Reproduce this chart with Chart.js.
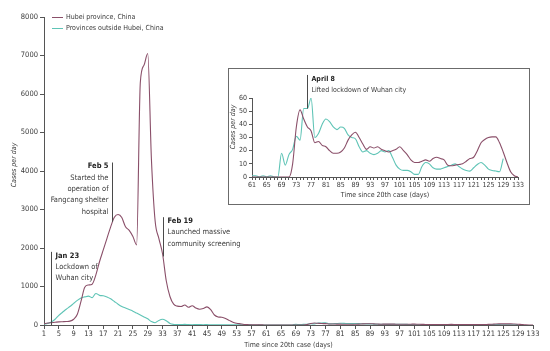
<!DOCTYPE html>
<html>
<head>
<meta charset="utf-8">
<script src="https://cdn.jsdelivr.net/npm/chart.js@4"></script>
<style>
    html, body { margin: 0; padding: 0; background: #ffffff; }
    #wrap { position: relative; width: 550px; height: 351px; }
    #mainChart { position: absolute; left: 0; top: 0; }
    #insetBox { position: absolute; left: 228px; top: 68px; width: 300px; height: 135px; border: 1px solid #6b6b6b; background: #ffffff; }
    #insetChart { position: absolute; left: 0; top: 0; }
</style>
</head>
<body>
<div id="wrap">
    <canvas id="mainChart" width="550" height="351"></canvas>
    <div id="insetBox"><canvas id="insetChart" width="300" height="135"></canvas></div>
</div>
<script>
// Daily new cases, main panel covers days 1-133 (index 0 = day 1)
const hubeiCases = [
    30, 50, 60, 70, 80, 85, 90, 100, 150, 280,
    620, 980, 1040, 1060, 1300, 1650, 1950, 2250, 2550, 2800,
    2870, 2790, 2550, 2460, 2300, 2080, 6300, 6750, 7050, 4300,
    2700, 2250, 1850, 1150, 740, 540, 490, 480, 520, 460,
    500, 440, 410, 430, 470, 400, 260, 210, 200, 170,
    120, 70, 45, 30, 15, 10, 5, 5, 3, 2,
    // days 61-133 (same as inset)
    0, 0, 0, 0, 0, 0, 0, 0, 0, 0, 0,
    10, 38, 51, 44, 38, 35, 26, 27, 24, 23,
    20, 18, 18, 19, 22, 28, 32, 34, 30, 25,
    21, 23, 22, 23, 21, 20, 19, 20, 21, 23,
    20, 17, 13, 11, 11, 12, 13, 12, 14, 15,
    14, 13, 9, 8.5, 9, 9.5, 10, 12, 14, 15,
    20, 26, 28.5, 30, 30.5, 30.5, 26, 19, 11, 4,
    1, 0
];

const outsideCases = [
    20, 40, 80, 150, 250, 330, 410, 480, 560, 640,
    700, 730, 750, 710, 820, 770, 760, 730, 680, 610,
    540, 480, 440, 400, 360, 310, 260, 210, 160, 90,
    60, 120, 150, 110, 40, 15, 10, 12, 15, 10,
    8, 12, 10, 8, 10, 6, 8, 5, 6, 4,
    5, 3, 4, 3, 2, 3, 2, 1, 2, 1,
    // days 61-133 (same as inset)
    1, 1, 0, 1, 0, 1, 0, 0, 18, 9,
    17, 21, 31, 28, 52, 52, 60, 30, 33, 40,
    44, 42, 38, 36, 38, 37, 32, 30, 29, 23,
    19, 20, 18, 17, 18, 20, 19, 20, 15, 9,
    6, 5, 5, 4, 2, 2, 8, 11, 10, 7,
    6, 6, 7, 8, 9, 10, 8, 6, 5, 4.5,
    7, 9.5, 11, 9, 6, 5, 4.5, 4, 14,
    null, null, null, null
];

const mainTickLabels = [1, 5, 9, 13, 17, 21, 25, 29, 33, 37, 41, 45, 49, 53, 57, 61, 65, 69, 73, 77, 81, 85, 89, 93, 97, 101, 105, 109, 113, 117, 121, 125, 129, 133];
const insetTickLabels = [61, 65, 69, 73, 77, 81, 85, 89, 93, 97, 101, 105, 109, 113, 117, 121, 125, 129, 133];
const INSET_START_DAY = 61;

const seriesNames = ['Hubei province, China', 'Provinces outside Hubei, China'];

// events: day of the marker, bold title, description, and the value range the marker line covers
const mainEvents = [
    { day: 3, title: 'Jan 23', lines: ['Lockdown of', 'Wuhan city'], from: 0, to: 1900, side: 'right' },
    { day: 19.4, title: 'Feb 5', lines: ['Started the', 'operation of', 'Fangcang shelter', 'hospital'], from: 2680, to: 4220, side: 'left' },
    { day: 33.25, title: 'Feb 19', lines: ['Launched massive', 'community screening'], from: 1780, to: 2800, side: 'right' }
];
const insetEvents = [
    { day: 76, title: 'April 8', lines: ['Lifted lockdown of Wuhan city'], from: 52, to: 77.5, side: 'right' }
];

const HUBEI_COLOR = '#8a4f69';
const OUTSIDE_COLOR = '#5fc4b6';
const AXIS_COLOR = '#555555';
const TEXT_COLOR = '#3a3a3a';
const FONT_FAMILY = "'Liberation Sans Narrow', 'DejaVu Sans Condensed', 'Noto Sans', sans-serif";

Chart.defaults.font.family = FONT_FAMILY;
Chart.defaults.color = TEXT_COLOR;

function toPoints(values, firstDay) {
    return values.map((v, i) => ({ x: firstDay + i, y: v }));
}

function drawEvents(chart, events, fontSize, lineGap) {
    const ctx = chart.ctx;
    const xs = chart.scales.x;
    const ys = chart.scales.y;
    ctx.save();
    events.forEach(ev => {
        const x = Math.round(xs.getPixelForValue(ev.day)) + 0.5;
        const yTop = ys.getPixelForValue(ev.to);
        const yBottom = ys.getPixelForValue(ev.from);
        ctx.strokeStyle = '#4a4a4a';
        ctx.lineWidth = 1;
        ctx.beginPath();
        ctx.moveTo(x, yBottom);
        ctx.lineTo(x, yTop);
        ctx.stroke();

        const tx = ev.side === 'right' ? x + 4 : x - 4;
        ctx.textAlign = ev.side === 'right' ? 'left' : 'right';
        ctx.textBaseline = 'middle';
        ctx.fillStyle = '#222222';
        ctx.font = 'bold ' + fontSize + 'px ' + FONT_FAMILY;
        ctx.fillText(ev.title, tx, yTop + 4);
        ctx.font = fontSize + 'px ' + FONT_FAMILY;
        ctx.fillStyle = TEXT_COLOR;
        ev.lines.forEach((line, i) => {
            ctx.fillText(line, tx, yTop + 4 + lineGap * (i + 1));
        });
    });
    ctx.restore();
}

function drawTitles(chart, yTitleX, yTitleY, xTitleY) {
    const ctx = chart.ctx;
    const area = chart.chartArea;
    ctx.save();
    ctx.fillStyle = TEXT_COLOR;
    ctx.font = '7px ' + FONT_FAMILY;
    ctx.textAlign = 'center';
    ctx.textBaseline = 'middle';
    ctx.fillText('Time since 20th case (days)', (area.left + area.right) / 2, xTitleY);
    ctx.translate(yTitleX, yTitleY);
    ctx.rotate(-Math.PI / 2);
    ctx.font = 'italic 7px ' + FONT_FAMILY;
    ctx.fillText('Cases per day', 0, 0);
    ctx.restore();
}

const mainOverlay = {
    id: 'mainOverlay',
    afterDraw(chart) {
        const ctx = chart.ctx;
        // legend
        ctx.save();
        [HUBEI_COLOR, OUTSIDE_COLOR].forEach((color, i) => {
            const y = 17.5 + i * 11;
            ctx.strokeStyle = color;
            ctx.lineWidth = 1;
            ctx.beginPath();
            ctx.moveTo(52, y);
            ctx.lineTo(63, y);
            ctx.stroke();
            ctx.fillStyle = TEXT_COLOR;
            ctx.font = '7px ' + FONT_FAMILY;
            ctx.textAlign = 'left';
            ctx.textBaseline = 'middle';
            ctx.fillText(seriesNames[i], 66, y);
        });
        ctx.restore();
        drawTitles(chart, 14, 165, 345);
        drawEvents(chart, mainEvents, 7.5, 11.3);
    }
};

const insetOverlay = {
    id: 'insetOverlay',
    afterDraw(chart) {
        drawTitles(chart, 4, 58, 126);
        drawEvents(chart, insetEvents, 7, 11);
    }
};

function lineDataset(label, values, color, firstDay) {
    return {
        label: label,
        data: toPoints(values, firstDay),
        borderColor: color,
        borderWidth: 1.1,
        pointRadius: 0,
        cubicInterpolationMode: 'monotone',
        fill: false,
        spanGaps: false
    };
}

function axisGrid(len) {
    return {
        display: true,
        drawOnChartArea: false,
        drawTicks: true,
        tickLength: len,
        color: AXIS_COLOR
    };
}

const mainChart = new Chart(document.getElementById('mainChart'), {
    type: 'line',
    data: {
        datasets: [
            lineDataset(seriesNames[0], hubeiCases, HUBEI_COLOR, 1),
            lineDataset(seriesNames[1], outsideCases, OUTSIDE_COLOR, 1)
        ]
    },
    options: {
        responsive: false,
        animation: false,
        layout: { padding: { top: 17, right: 17, left: 0, bottom: 0 } },
        plugins: { legend: { display: false }, tooltip: { enabled: false } },
        scales: {
            x: {
                type: 'linear',
                min: 1,
                max: 133,
                afterBuildTicks: scale => { scale.ticks = mainTickLabels.map(v => ({ value: v })); },
                afterFit: scale => { scale.height = 26; },
                grid: axisGrid(4),
                border: { display: true, color: AXIS_COLOR, width: 1 },
                ticks: { autoSkip: false, maxRotation: 0, padding: 1, font: { size: 7.5 }, color: TEXT_COLOR,
                    callback: value => String(value) }
            },
            y: {
                min: 0,
                max: 8000,
                afterFit: scale => { scale.width = 44; },
                grid: axisGrid(4),
                border: { display: true, color: AXIS_COLOR, width: 1 },
                ticks: { stepSize: 1000, padding: 2, font: { size: 7.5 }, color: TEXT_COLOR,
                    callback: value => String(value) }
            }
        }
    },
    plugins: [mainOverlay]
});

const insetChart = new Chart(document.getElementById('insetChart'), {
    type: 'line',
    data: {
        datasets: [
            lineDataset(seriesNames[0], hubeiCases.slice(INSET_START_DAY - 1), HUBEI_COLOR, INSET_START_DAY),
            lineDataset(seriesNames[1], outsideCases.slice(INSET_START_DAY - 1), OUTSIDE_COLOR, INSET_START_DAY)
        ]
    },
    options: {
        responsive: false,
        animation: false,
        layout: { padding: { top: 29, right: 11, left: 0, bottom: 0 } },
        plugins: { legend: { display: false }, tooltip: { enabled: false } },
        scales: {
            x: {
                type: 'linear',
                min: 61,
                max: 133,
                afterBuildTicks: scale => {
                    const ticks = [];
                    for (let d = 61; d <= 133; d++) ticks.push({ value: d });
                    scale.ticks = ticks;
                },
                afterFit: scale => { scale.height = 27; },
                grid: axisGrid(3),
                border: { display: true, color: AXIS_COLOR, width: 1 },
                ticks: {
                    autoSkip: false,
                    maxRotation: 0,
                    padding: 1,
                    font: { size: 7 },
                    color: TEXT_COLOR,
                    callback: value => insetTickLabels.includes(value) ? String(value) : ''
                }
            },
            y: {
                min: 0,
                max: 60,
                afterFit: scale => { scale.width = 23; },
                grid: axisGrid(3),
                border: { display: true, color: AXIS_COLOR, width: 1 },
                ticks: { stepSize: 10, padding: 2, font: { size: 7 }, color: TEXT_COLOR }
            }
        }
    },
    plugins: [insetOverlay]
});
</script>
</body>
</html>
